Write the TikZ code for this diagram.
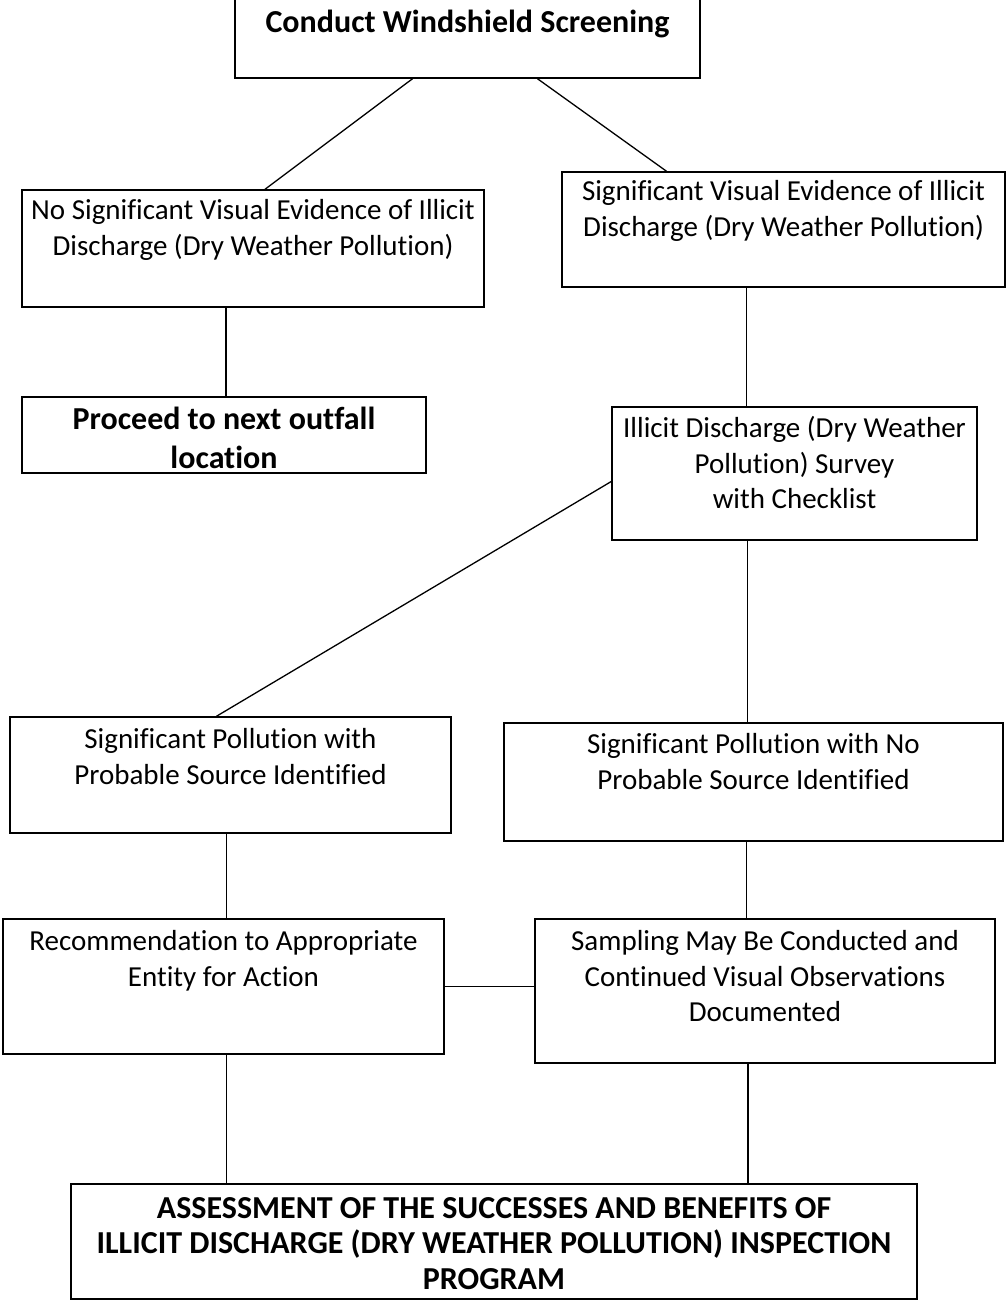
\documentclass[tikz,border=0pt]{standalone}
\usepackage{fontspec}
\setmainfont{Carlito}[Ligatures=CommonOff]
\usetikzlibrary{positioning}

\tikzset{
  box/.style={draw, line width=1.5pt, inner sep=0pt},
  txt/.style={align=center, inner sep=0pt, font=\fontsize{29}{35.5}\selectfont},
  btxt/.style={align=center, inner sep=0pt, font=\fontsize{32}{38.5}\selectfont\bfseries},
  link/.style={line width=1.3pt}
}

\begin{document}
\begin{tikzpicture}[x=1pt, y=-1pt]
    \useasboundingbox (0,0) rectangle (1006,1303);
    % boxes
    \node[box, minimum width=465pt, minimum height=82pt] (screen) at (467.5,37) {};
    \node[box, minimum width=462pt, minimum height=117pt] (noSig) at (253,248.5) {};
    \node[box, minimum width=443pt, minimum height=115pt] (sig) at (783.5,229.5) {};
    \node[box, minimum width=404pt, minimum height=76pt] (proceed) at (224,435) {};
    \node[box, minimum width=365pt, minimum height=133pt] (survey) at (794.5,473.5) {};
    \node[box, minimum width=441pt, minimum height=116pt] (probable) at (230.5,775) {};
    \node[box, minimum width=499pt, minimum height=118pt] (noSource) at (753.5,782) {};
    \node[box, minimum width=441pt, minimum height=135pt] (rec) at (223.5,986.5) {};
    \node[box, minimum width=460pt, minimum height=144pt] (sampling) at (765,991) {};
    \node[box, minimum width=846pt, minimum height=115pt] (assess) at (494,1241.5) {};
    % texts
    \node[btxt, below=15pt of screen.north] {Conduct Windshield Screening};
    \node[txt, below=10pt of noSig.north] {No Significant Visual Evidence of Illicit\\ Discharge (Dry Weather Pollution)};
    \node[txt, below=9pt of sig.north] {Significant Visual Evidence of Illicit\\ Discharge (Dry Weather Pollution)};
    \node[btxt, below=11pt of proceed.north] {Proceed to next outfall\\ location};
    \node[txt, below=10pt of survey.north] {Illicit Discharge (Dry Weather\\ Pollution) Survey\\ with Checklist};
    \node[txt, below=12pt of probable.north] {Significant Pollution with\\ Probable Source Identified};
    \node[txt, below=11pt of noSource.north] {Significant Pollution with No\\ Probable Source Identified};
    \node[txt, below=12pt of rec.north] {Recommendation to Appropriate\\ Entity for Action};
    \node[txt, below=12pt of sampling.north] {Sampling May Be Conducted and\\ Continued Visual Observations\\ Documented};
    \node[btxt, below=14pt of assess.north, font=\fontsize{32}{35.5}\selectfont\bfseries] {ASSESSMENT OF THE SUCCESSES AND BENEFITS OF\\ ILLICIT DISCHARGE (DRY WEATHER POLLUTION) INSPECTION\\ PROGRAM};
    % connectors
    \draw[link] ([xshift=-55pt]screen.south) -- ([xshift=12pt]noSig.north);
    \draw[link] ([xshift=70pt]screen.south) -- ([xshift=-117pt]sig.north);
    \draw[link] ([xshift=-27pt]noSig.south) -- ([xshift=-27pt]noSig.south |- proceed.north);
    \draw[link] ([xshift=-37pt]sig.south) -- ([xshift=-37pt]sig.south |- survey.north);
    \draw[link] ([yshift=-8pt]survey.west) -- ([xshift=-14pt]probable.north);
    \draw[link] ([xshift=-47pt]survey.south) -- ([xshift=-47pt]survey.south |- noSource.north);
    \draw[link] ([xshift=-4pt]probable.south) -- ([xshift=-4pt]probable.south |- rec.north);
    \draw[link] ([xshift=-7pt]noSource.south) -- ([xshift=-7pt]noSource.south |- sampling.north);
    \draw[link] (rec.east) -- (rec.east -| sampling.west);
    \draw[link] ([xshift=3pt]rec.south) -- ([xshift=3pt]rec.south |- assess.north);
    \draw[link] ([xshift=-17pt]sampling.south) -- ([xshift=-17pt]sampling.south |- assess.north);
\end{tikzpicture}
\end{document}
